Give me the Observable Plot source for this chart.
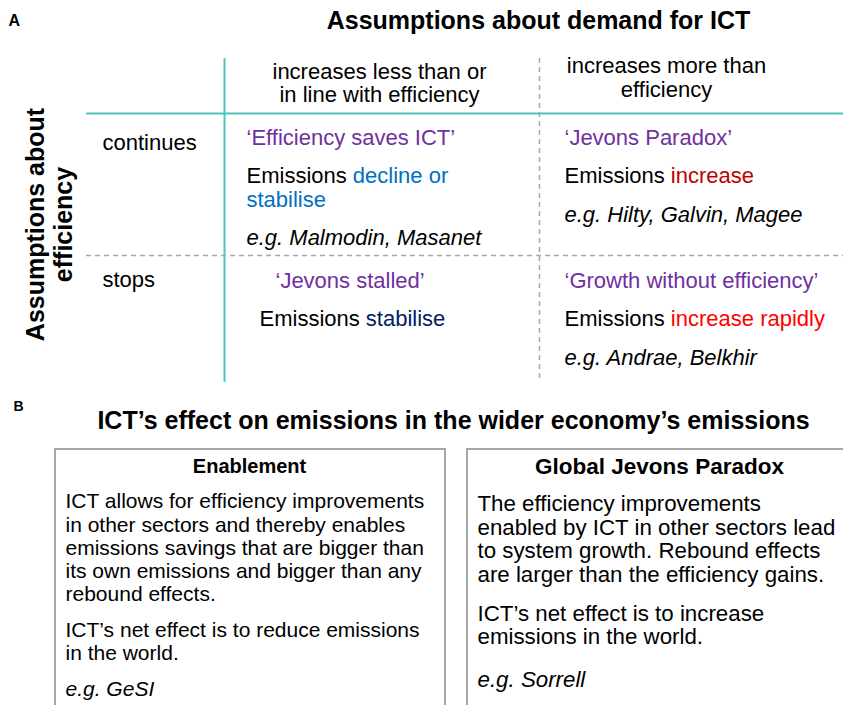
<!DOCTYPE html>
<html><head><meta charset="utf-8">
<script src="https://cdn.jsdelivr.net/npm/d3@7"></script>
<script src="https://cdn.jsdelivr.net/npm/@observablehq/plot@0.6"></script>
<style>html,body{margin:0;padding:0;background:#fff}#chart svg{display:block}</style>
</head><body><div id="chart"></div>
<script>
// ---------- content ----------
const panelLabels = ["A", "B"];
const titleA = "Assumptions about demand for ICT";
const sideTitle = ["Assumptions about", "efficiency"];
const demandHeaders = [["increases less than or", "in line with efficiency"], ["increases more than", "efficiency"]];
const efficiencyRows = ["continues", "stops"];
const scenarioNames = ["‘Efficiency saves ICT’", "‘Jevons Paradox’", "‘Jevons stalled’", "‘Growth without efficiency’"];
const emissionsLead = "Emissions ";
const emissionsOutcomes = [["decline or", "stabilise"], ["increase"], ["stabilise"], ["increase rapidly"]];
const examples = ["e.g. Malmodin, Masanet", "e.g. Hilty, Galvin, Magee", "", "e.g. Andrae, Belkhir"];
const titleB = "ICT’s effect on emissions in the wider economy’s emissions";
const boxTitles = ["Enablement", "Global Jevons Paradox"];
const boxParagraphs = [
  [["ICT allows for efficiency improvements", "in other sectors and thereby enables", "emissions savings that are bigger than", "its own emissions and bigger than any", "rebound effects."],
   ["ICT’s net effect is to reduce emissions", "in the world."]],
  [["The efficiency improvements", "enabled by ICT in other sectors lead", "to system growth. Rebound effects", "are larger than the efficiency gains."],
   ["ICT’s net effect is to increase", "emissions in the world."]]
];
const boxExamples = ["e.g. GeSI", "e.g. Sorrell"];

// ---------- style / layout ----------
const W = 843, H = 705;
const FONT = "'Liberation Sans', Arial, Helvetica, sans-serif";
const PURPLE = "#7030a0";
const outcomeColors = ["#0070c0", "#c00000", "#002060", "#ff0000"];
const TEAL = "#4cc4bb", GRAY = "#a8a8a8", BOXGRAY = "#a6a6a6";
const grid = {colSplit: 224, colDash: 539, rowSplit: 113, rowDash: 255, left: 86, top: 58, bottom: 382};
const headerX = [379, 666], headerY = [[71, 94], [65, 89]];
const rowLabelX = 102, rowLabelY = [142, 279];
const cells = [
  {nameX: 246, leadX: 246, ys: [137, 175, 199], exY: 237},
  {nameX: 564, leadX: 564, ys: [137, 175], exY: 214},
  {nameX: 275, leadX: 259, ys: [280, 318], exY: null},
  {nameX: 564, leadX: 564, ys: [280, 318], exY: 357}
];
const boxes = [{x1: 55, x2: 445, y1: 449, y2: 730}, {x1: 467, x2: 870, y1: 449, y2: 730}];
const boxHeadX = [249, 659], boxHeadY = 466, boxHeadSize = [20, 22.5];
const boxTextX = [65, 477], boxTextSize = [21, 22.3];
const boxLineY = [[[501, 525, 548, 571, 594], [630, 653]], [[503, 527, 550, 574], [613, 636]]];
const boxExampleY = [689, 679];

const ctx = document.createElement("canvas").getContext("2d");
function measure(t, size, weight = "normal", style = "normal") {
  ctx.font = `${style} ${weight} ${size}px 'Liberation Sans'`;
  return ctx.measureText(t).width;
}

// ---------- build text table ----------
const T = []; // {x,y,text,fill,size,kind,anchor}
const add = (o) => T.push(Object.assign({fill: "#000", size: 22, kind: "normal", anchor: "start"}, o));

add({x: 8, y: 20, text: panelLabels[0], size: 16, kind: "bold"});
add({x: 13, y: 406, text: panelLabels[1], size: 14, kind: "bold"});
add({x: 538, y: 20, text: titleA, size: 25, kind: "bold", anchor: "middle"});
add({x: 453, y: 420, text: titleB, size: 25, kind: "bold", anchor: "middle"});
add({x: 35, y: 224, text: sideTitle[0], size: 25, kind: "rot", anchor: "middle"});
add({x: 63, y: 224, text: sideTitle[1], size: 25, kind: "rot", anchor: "middle"});

demandHeaders.forEach((lines, i) => lines.forEach((l, j) => add({x: headerX[i], y: headerY[i][j], text: l, anchor: "middle"})));
efficiencyRows.forEach((r, i) => add({x: rowLabelX, y: rowLabelY[i], text: r}));

cells.forEach((c, i) => {
  add({x: c.nameX, y: c.ys[0], text: scenarioNames[i], fill: PURPLE});
  add({x: c.leadX, y: c.ys[1], text: emissionsLead.trim()});
  const off = measure(emissionsLead, 22);
  emissionsOutcomes[i].forEach((o, j) => {
    add({x: j === 0 ? c.leadX + off : c.leadX, y: c.ys[1 + j], text: o, fill: outcomeColors[i]});
  });
  if (examples[i]) add({x: c.leadX, y: c.exY, text: examples[i], kind: "italic"});
});

boxTitles.forEach((t, i) => add({x: boxHeadX[i], y: boxHeadY, text: t, size: boxHeadSize[i], kind: "bold", anchor: "middle"}));
boxParagraphs.forEach((paras, i) => paras.forEach((lines, p) => lines.forEach((l, j) =>
  add({x: boxTextX[i], y: boxLineY[i][p][j], text: l, size: boxTextSize[i]})
)));
boxExamples.forEach((e, i) => add({x: boxTextX[i], y: boxExampleY[i], text: e, size: boxTextSize[i], kind: "italic"}));

function textMark(kind, anchor) {
  const data = T.filter(d => d.kind === kind && d.anchor === anchor);
  return Plot.text(data, {
    x: "x", y: "y", text: "text", fill: "fill", fontSize: "size",
    textAnchor: anchor,
    fontWeight: kind === "bold" || kind === "rot" ? "bold" : "normal",
    fontStyle: kind === "italic" ? "italic" : "normal",
    rotate: kind === "rot" ? -90 : 0,
    fontFamily: FONT
  });
}

const vRules = [
  {x: grid.colSplit, y1: grid.top, y2: grid.bottom, stroke: TEAL, dash: "none"},
  {x: grid.colDash, y1: grid.top, y2: grid.bottom - 2, stroke: GRAY, dash: "5,4"}
];
const hRules = [
  {y: grid.rowSplit, x1: grid.left, x2: W, stroke: TEAL, dash: "none"},
  {y: grid.rowDash, x1: grid.left, x2: W, stroke: GRAY, dash: "5,4"}
];

const chart = Plot.plot({
  width: W, height: H,
  margin: 0,
  x: {domain: [0, W], range: [0, W], axis: null},
  y: {domain: [0, H], range: [0, H], axis: null},
  color: {type: "identity"},
  style: {fontFamily: FONT, background: "#fff"},
  marks: [
    Plot.ruleX(vRules.filter(d => d.dash === "none"), {x: "x", y1: "y1", y2: "y2", stroke: "stroke", strokeWidth: 2}),
    Plot.ruleX(vRules.filter(d => d.dash !== "none"), {x: "x", y1: "y1", y2: "y2", stroke: "stroke", strokeWidth: 1.5, strokeDasharray: "5,4"}),
    Plot.ruleY(hRules.filter(d => d.dash === "none"), {y: "y", x1: "x1", x2: "x2", stroke: "stroke", strokeWidth: 2}),
    Plot.ruleY(hRules.filter(d => d.dash !== "none"), {y: "y", x1: "x1", x2: "x2", stroke: "stroke", strokeWidth: 1.5, strokeDasharray: "5,4"}),
    Plot.rect(boxes, {x1: "x1", x2: "x2", y1: "y1", y2: "y2", fill: "none", stroke: BOXGRAY, strokeWidth: 2}),
    textMark("normal", "start"), textMark("normal", "middle"),
    textMark("italic", "start"),
    textMark("bold", "start"), textMark("bold", "middle"),
    textMark("rot", "middle")
  ]
});
document.getElementById("chart").appendChild(chart);
</script>
</body></html>
